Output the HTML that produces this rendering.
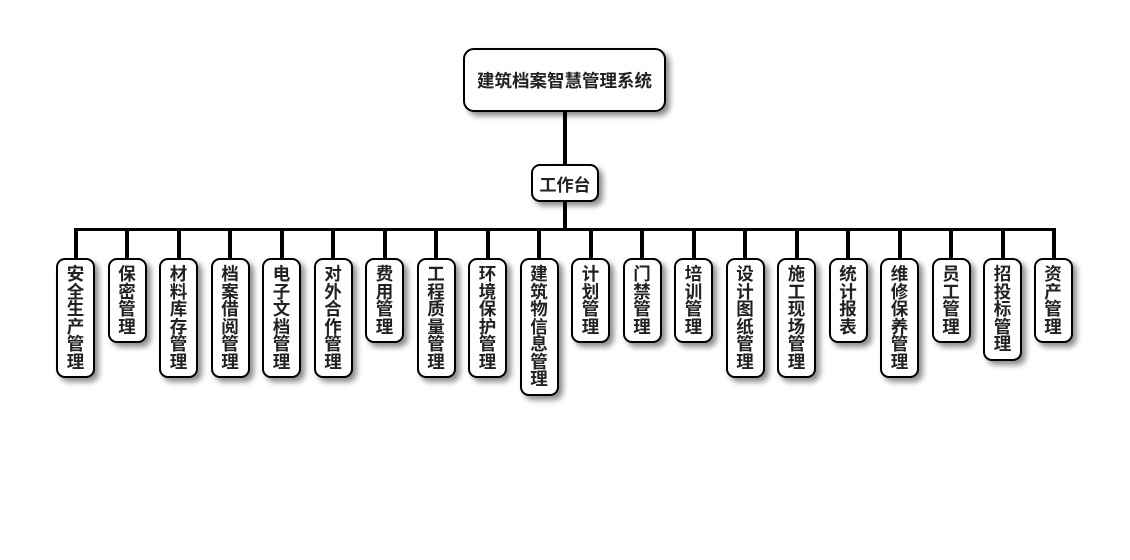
<!DOCTYPE html>
<html><head><meta charset="utf-8">
<style>
html,body{margin:0;padding:0;background:#fff;}
body{width:1130px;height:560px;position:relative;overflow:hidden;font-family:"Liberation Sans","Noto Sans CJK SC",sans-serif;font-weight:bold;color:#222;}
.ln{position:absolute;background:#000;}
.bx{position:absolute;box-sizing:border-box;border:2px solid #000;background:#fff;border-radius:9px;box-shadow:4px 4px 6px rgba(0,0,0,0.45);}
.v{top:258px;width:39px;padding-top:6px;font-size:17.5px;line-height:17.5px;text-align:center;word-break:break-all;}
.v span{display:block;width:18px;margin:0 auto;}
.cl{top:230px;height:28px;width:4px;}
</style></head><body>
<!-- connectors -->
<div class="ln" style="left:563px;top:112px;width:4px;height:52px;"></div>
<div class="ln" style="left:563px;top:202px;width:4px;height:29px;"></div>
<div class="ln" style="left:73.5px;top:228px;width:982.5px;height:3px;"></div>
<div class="ln cl" style="left:73.5px"></div>
<div class="ln cl" style="left:125px"></div>
<div class="ln cl" style="left:176.5px"></div>
<div class="ln cl" style="left:228px"></div>
<div class="ln cl" style="left:279.5px"></div>
<div class="ln cl" style="left:331px"></div>
<div class="ln cl" style="left:382.5px"></div>
<div class="ln cl" style="left:434px"></div>
<div class="ln cl" style="left:485.5px"></div>
<div class="ln cl" style="left:537px"></div>
<div class="ln cl" style="left:588.5px"></div>
<div class="ln cl" style="left:640px"></div>
<div class="ln cl" style="left:691.5px"></div>
<div class="ln cl" style="left:743px"></div>
<div class="ln cl" style="left:794.5px"></div>
<div class="ln cl" style="left:846px"></div>
<div class="ln cl" style="left:897.5px"></div>
<div class="ln cl" style="left:949px"></div>
<div class="ln cl" style="left:1000.5px"></div>
<div class="ln cl" style="left:1052px"></div>

<!-- top nodes -->
<div class="bx" style="left:463px;top:48px;width:203px;height:64px;display:flex;align-items:center;justify-content:center;font-size:17.5px;border-radius:11px;">建筑档案智慧管理系统</div>
<div class="bx" style="left:531px;top:164px;width:68px;height:38px;display:flex;align-items:center;justify-content:center;font-size:17px;">工作台</div>

<!-- leaf nodes -->
<div class="bx v" style="left:56px;height:120px;"><span>安全生产管理</span></div>
<div class="bx v" style="left:107.5px;height:85px;"><span>保密管理</span></div>
<div class="bx v" style="left:159px;height:120px;"><span>材料库存管理</span></div>
<div class="bx v" style="left:210.5px;height:120px;"><span>档案借阅管理</span></div>
<div class="bx v" style="left:262px;height:120px;"><span>电子文档管理</span></div>
<div class="bx v" style="left:313.5px;height:120px;"><span>对外合作管理</span></div>
<div class="bx v" style="left:365px;height:85px;"><span>费用管理</span></div>
<div class="bx v" style="left:416.5px;height:120px;"><span>工程质量管理</span></div>
<div class="bx v" style="left:468px;height:120px;"><span>环境保护管理</span></div>
<div class="bx v" style="left:519.5px;height:137.5px;"><span>建筑物信息管理</span></div>
<div class="bx v" style="left:571px;height:85px;"><span>计划管理</span></div>
<div class="bx v" style="left:622.5px;height:85px;"><span>门禁管理</span></div>
<div class="bx v" style="left:674px;height:85px;"><span>培训管理</span></div>
<div class="bx v" style="left:725.5px;height:120px;"><span>设计图纸管理</span></div>
<div class="bx v" style="left:777px;height:120px;"><span>施工现场管理</span></div>
<div class="bx v" style="left:828.5px;height:85px;"><span>统计报表</span></div>
<div class="bx v" style="left:880px;height:120px;"><span>维修保养管理</span></div>
<div class="bx v" style="left:931.5px;height:85px;"><span>员工管理</span></div>
<div class="bx v" style="left:983px;height:102.5px;"><span>招投标管理</span></div>
<div class="bx v" style="left:1033.5px;height:85px;"><span>资产管理</span></div>
</body></html>
